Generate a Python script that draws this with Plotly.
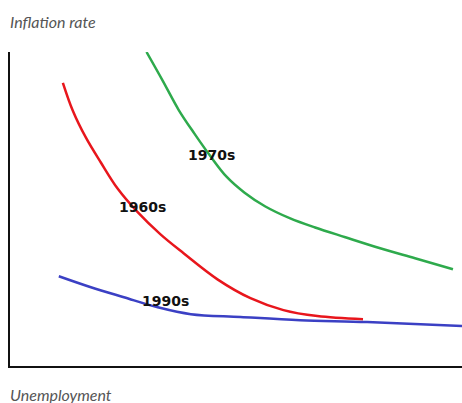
import plotly.graph_objects as go

# Phillips curves by decade (conceptual units, 0-10 on both axes)
u_1960s = [1.17, 1.39, 1.68, 2.01, 2.38, 2.83, 3.33, 3.84, 4.59, 5.32, 6.05, 6.80, 7.81]
i_1960s = [9.02, 8.13, 7.27, 6.48, 5.65, 4.89, 4.19, 3.59, 2.76, 2.16, 1.78, 1.59, 1.49]

u_1970s = [3.02, 3.38, 3.73, 4.08, 4.44, 4.79, 5.19, 5.65, 6.20, 6.75, 7.42, 8.19, 8.96, 9.80]
i_1970s = [10.0, 9.08, 8.16, 7.40, 6.67, 6.03, 5.52, 5.08, 4.70, 4.41, 4.10, 3.75, 3.43, 3.08]

u_1990s = [1.08, 1.79, 2.52, 3.27, 4.00, 5.10, 6.42, 7.90, 10.0]
i_1990s = [2.86, 2.51, 2.19, 1.87, 1.65, 1.56, 1.46, 1.40, 1.27]

label_text = ["1970s", "1960s", "1990s"]
label_x = [4.46, 2.94, 3.44]
label_y = [6.73, 5.05, 2.06]

fig = go.Figure()
fig.add_trace(go.Scatter(x=u_1960s, y=i_1960s, mode="lines",
                         line=dict(color="#e8161c", width=2.5, shape="spline")))
fig.add_trace(go.Scatter(x=u_1970s, y=i_1970s, mode="lines",
                         line=dict(color="#2eaa4c", width=2.5, shape="spline")))
fig.add_trace(go.Scatter(x=u_1990s, y=i_1990s, mode="lines",
                         line=dict(color="#3b40c4", width=2.5, shape="spline")))

for t, x, y in zip(label_text, label_x, label_y):
    fig.add_annotation(x=x, y=y, text="<b>" + t + "</b>", showarrow=False,
                       font=dict(family="DejaVu Sans", size=14, color="#111111"))

# axis captions
fig.add_annotation(xref="paper", yref="paper", x=-0.004, y=1.096, text="<i>Inflation rate</i>",
                   showarrow=False, xanchor="left", yanchor="middle",
                   font=dict(family="Lato", size=16, color="#555555"))
fig.add_annotation(xref="paper", yref="paper", x=-0.004, y=-0.092, text="<i>Unemployment</i>",
                   showarrow=False, xanchor="left", yanchor="middle",
                   font=dict(family="Lato", size=16, color="#555555"))

axis_style = dict(showgrid=False, zeroline=False, showticklabels=False, ticks="",
                  showline=True, linecolor="#111111", linewidth=2)
fig.update_xaxes(range=[0, 10], **axis_style)
fig.update_yaxes(range=[0, 10], **axis_style)

fig.update_layout(width=462, height=403, showlegend=False,
                  margin=dict(l=10, r=0, t=52, b=37),
                  paper_bgcolor="white", plot_bgcolor="white")

# drop the default body margin so the figure fills the window exactly
fig.write_html("out.html", config={"displayModeBar": False},
               post_script="document.body.style.margin='0';")
